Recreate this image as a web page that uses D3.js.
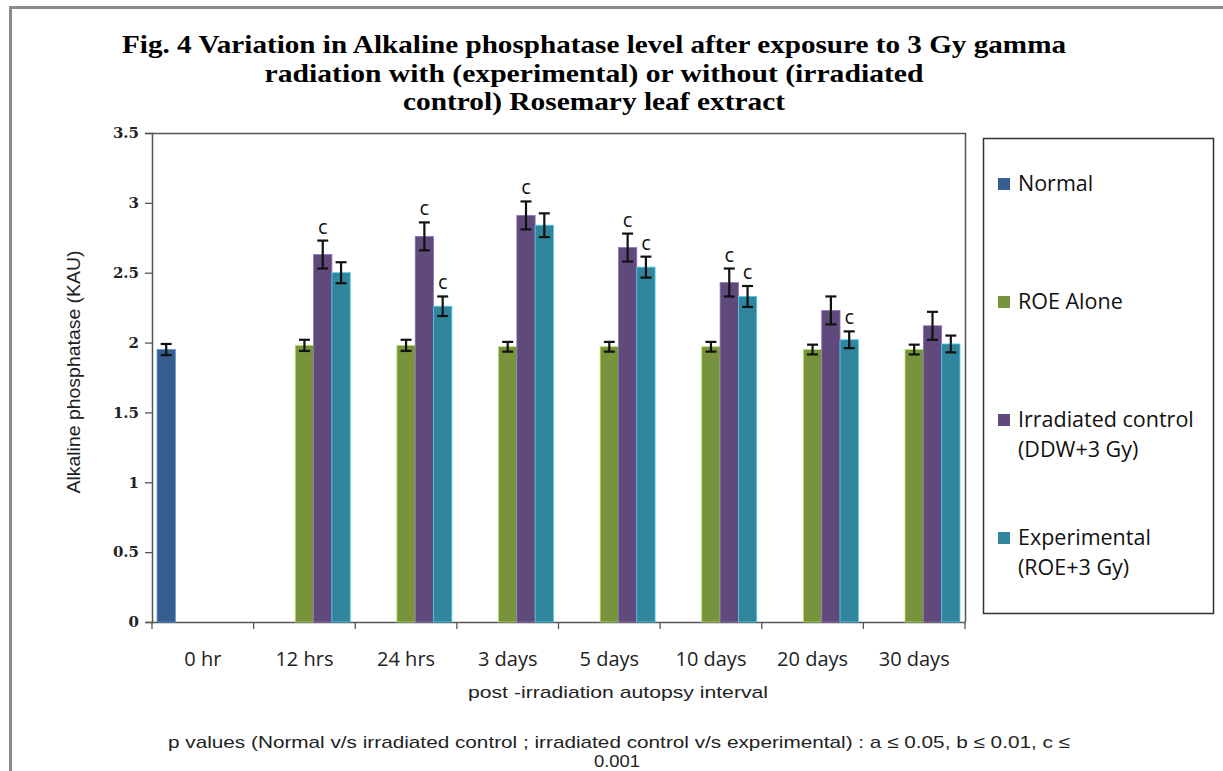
<!DOCTYPE html>
<html>
<head>
<meta charset="utf-8">
<script src="https://cdn.jsdelivr.net/npm/d3@7"></script>
<style>
  body { margin: 0; background: #fff; }
  svg { display: block; }
</style>
</head>
<body>
<svg id="chart" width="1223" height="771"></svg>
<script>
// categories and series
const intervals = ['0 hr', '12 hrs', '24 hrs', '3 days', '5 days', '10 days', '20 days', '30 days'];
const seriesNames = ['Normal', 'ROE Alone', 'Irradiated control', 'Experimental'];
const legendLines = [['Normal'], ['ROE Alone'], ['Irradiated control', '(DDW+3 Gy)'], ['Experimental', '(ROE+3 Gy)']];
const colors = ['#375E8F', '#77933C', '#604A7B', '#31859C'];

// mean values (null = not measured)
const normal = [1.95, null, null, null, null, null, null, null];
const roeAlone = [null, 1.98, 1.98, 1.97, 1.97, 1.97, 1.95, 1.95];
const irradiated = [null, 2.63, 2.76, 2.91, 2.68, 2.43, 2.23, 2.12];
const experimental = [null, 2.50, 2.26, 2.84, 2.54, 2.33, 2.02, 1.99];

// standard errors
const normalErr = [0.04, null, null, null, null, null, null, null];
const roeAloneErr = [null, 0.04, 0.04, 0.035, 0.035, 0.035, 0.035, 0.035];
const irradiatedErr = [null, 0.10, 0.10, 0.10, 0.10, 0.10, 0.10, 0.10];
const experimentalErr = [null, 0.075, 0.07, 0.085, 0.075, 0.075, 0.06, 0.06];

// significance marks ("c" = p <= 0.001)
const irradiatedSig = ['', 'c', 'c', 'c', 'c', 'c', '', ''];
const experimentalSig = ['', '', 'c', '', 'c', 'c', 'c', ''];

const yTicks = [0, 0.5, 1, 1.5, 2, 2.5, 3, 3.5];

const titleLines = [
  'Fig. 4 Variation in Alkaline phosphatase level after exposure to 3 Gy gamma',
  'radiation with (experimental) or without (irradiated',
  'control) Rosemary leaf extract'
];
const titleWidths = [944, 659, 382];
const footLines = [
  'p values (Normal v/s irradiated control ; irradiated control v/s experimental) : a \u2264 0.05, b \u2264 0.01, c \u2264',
  '0.001'
];
const footWidths = [902, 46];

const svg = d3.select('#chart');
const plot = { left: 152, top: 133, right: 965, bottom: 622 };

// outer frame (only top and left edges are in view)
svg.append('path')
  .attr('d', 'M10.5,771 V7.5 H1223')
  .attr('fill', 'none')
  .attr('stroke', '#8a8a8a')
  .attr('stroke-width', 3);

// scales
const x0 = d3.scaleBand().domain(intervals).range([plot.left, plot.right]);
// five slots per group, the second one is left empty as in the original
const slotOf = [0, 2, 3, 4];
const x1 = d3.scaleBand().domain(d3.range(5)).range([0, x0.bandwidth()]).paddingOuter(0.275);
const y = d3.scaleLinear().domain([0, 3.5]).range([plot.bottom, plot.top]);

// title
svg.append('g').selectAll('text')
  .data(titleLines)
  .join('text')
  .attr('x', 594)
  .attr('y', (d, i) => 53 + i * 28.5)
  .attr('text-anchor', 'middle')
  .attr('textLength', (d, i) => titleWidths[i])
  .attr('lengthAdjust', 'spacingAndGlyphs')
  .style('font', 'bold 25px "Liberation Serif", serif')
  .style('fill', '#000')
  .text(d => d);

// plot box (top and right lines)
svg.append('path')
  .attr('d', `M${plot.left},${plot.top + 0.5} H${plot.right + 0.5} V${plot.bottom}`)
  .attr('fill', 'none')
  .attr('stroke', '#555')
  .attr('stroke-width', 1.5);

// y axis
const yAxis = svg.append('g')
  .attr('transform', `translate(${plot.left},0)`)
  .call(d3.axisLeft(y).tickValues(yTicks).tickSize(7).tickPadding(6).tickFormat(d3.format('')));
yAxis.select('.domain').attr('stroke', '#555').attr('stroke-width', 1.5);
yAxis.selectAll('.tick line').attr('stroke', '#555').attr('stroke-width', 1.3);
yAxis.selectAll('.tick text')
  .style('font', 'bold 15px "DejaVu Serif", serif')
  .attr('fill', '#222');

// x axis
const xAxis = svg.append('g')
  .attr('transform', `translate(0,${plot.bottom})`)
  .call(d3.axisBottom(x0).tickSize(0).tickPadding(30));
xAxis.select('.domain').attr('stroke', '#555').attr('stroke-width', 1.5);
xAxis.selectAll('.tick text')
  .style('font', '20px "Open Sans", sans-serif')
  .attr('fill', '#222');
// category boundary ticks
const bounds = intervals.map(d => x0(d)).concat([plot.right]);
xAxis.append('g').selectAll('line')
  .data(bounds)
  .join('line')
  .attr('x1', d => d).attr('x2', d => d)
  .attr('y1', 0).attr('y2', 7)
  .attr('stroke', '#555')
  .attr('stroke-width', 1.3);

// axis titles
svg.append('text')
  .attr('transform', 'translate(80,372) rotate(-90)')
  .attr('text-anchor', 'middle')
  .attr('textLength', 243)
  .attr('lengthAdjust', 'spacingAndGlyphs')
  .style('font', '18px "Liberation Sans", sans-serif')
  .attr('fill', '#222')
  .text('Alkaline phosphatase (KAU)');

svg.append('text')
  .attr('x', 618)
  .attr('y', 698)
  .attr('text-anchor', 'middle')
  .attr('textLength', 300)
  .attr('lengthAdjust', 'spacingAndGlyphs')
  .style('font', '17px "Liberation Sans", sans-serif')
  .attr('fill', '#222')
  .text('post -irradiation autopsy interval');

svg.append('g').selectAll('text')
  .data(footLines)
  .join('text')
  .attr('x', (d, i) => i === 0 ? 619 : 617)
  .attr('y', (d, i) => 748 + i * 19)
  .attr('text-anchor', 'middle')
  .attr('textLength', (d, i) => footWidths[i])
  .attr('lengthAdjust', 'spacingAndGlyphs')
  .style('font', '17px "Liberation Sans", sans-serif')
  .attr('fill', '#222')
  .text(d => d);

// build bar records
const means = [normal, roeAlone, irradiated, experimental];
const errs = [normalErr, roeAloneErr, irradiatedErr, experimentalErr];
const sigs = [null, null, irradiatedSig, experimentalSig];
const bars = [];
intervals.forEach((cat, ci) => {
  means.forEach((arr, si) => {
    if (arr[ci] == null) return;
    bars.push({ cat, si, value: arr[ci], err: errs[si][ci], sig: sigs[si] ? sigs[si][ci] : '' });
  });
});

const bx = d => x0(d.cat) + x1(slotOf[d.si]);
const bw = x1.bandwidth();

const g = svg.append('g');
g.selectAll('rect')
  .data(bars)
  .join('rect')
  .attr('x', d => bx(d))
  .attr('y', d => y(d.value))
  .attr('width', bw)
  .attr('height', d => y(0) - y(d.value))
  .attr('fill', d => colors[d.si])
  .attr('stroke', d => d3.color(colors[d.si]).brighter(1.2))
  .attr('stroke-width', 0.8);

// error bars
const eb = g.selectAll('.err')
  .data(bars)
  .join('g')
  .attr('class', 'err')
  .attr('transform', d => `translate(${bx(d) + bw / 2},0)`);
eb.append('line')
  .attr('y1', d => y(d.value + d.err))
  .attr('y2', d => y(d.value - d.err))
  .attr('stroke', '#111').attr('stroke-width', 2.2);
eb.append('line')
  .attr('x1', -5.5).attr('x2', 5.5)
  .attr('y1', d => y(d.value + d.err)).attr('y2', d => y(d.value + d.err))
  .attr('stroke', '#111').attr('stroke-width', 2.2);
eb.append('line')
  .attr('x1', -5.5).attr('x2', 5.5)
  .attr('y1', d => y(d.value - d.err)).attr('y2', d => y(d.value - d.err))
  .attr('stroke', '#111').attr('stroke-width', 2.2);

// significance letters
g.selectAll('.sig')
  .data(bars.filter(d => d.sig))
  .join('text')
  .attr('class', 'sig')
  .attr('x', d => bx(d) + bw / 2)
  .attr('y', d => y(d.value + d.err) - 7)
  .attr('text-anchor', 'middle')
  .style('font', '20px "Open Sans", sans-serif')
  .attr('fill', '#111')
  .text(d => d.sig);

// legend
const legend = svg.append('g');
legend.append('rect')
  .attr('x', 983.5).attr('y', 138.5)
  .attr('width', 230).attr('height', 475)
  .attr('fill', '#fff')
  .attr('stroke', '#333')
  .attr('stroke-width', 1.5);
const items = legend.selectAll('.item')
  .data(seriesNames)
  .join('g')
  .attr('class', 'item')
  .attr('transform', (d, i) => `translate(998,${184 + i * 118})`);
items.append('rect')
  .attr('x', 0).attr('y', -6)
  .attr('width', 12).attr('height', 12)
  .attr('fill', (d, i) => colors[i]);
items.selectAll('text')
  .data((d, i) => legendLines[i])
  .join('text')
  .attr('x', 20)
  .attr('y', (d, j) => 7 + j * 30)
  .style('font', '21.5px "Open Sans", sans-serif')
  .attr('fill', '#111')
  .text(d => d);
</script>
</body>
</html>
